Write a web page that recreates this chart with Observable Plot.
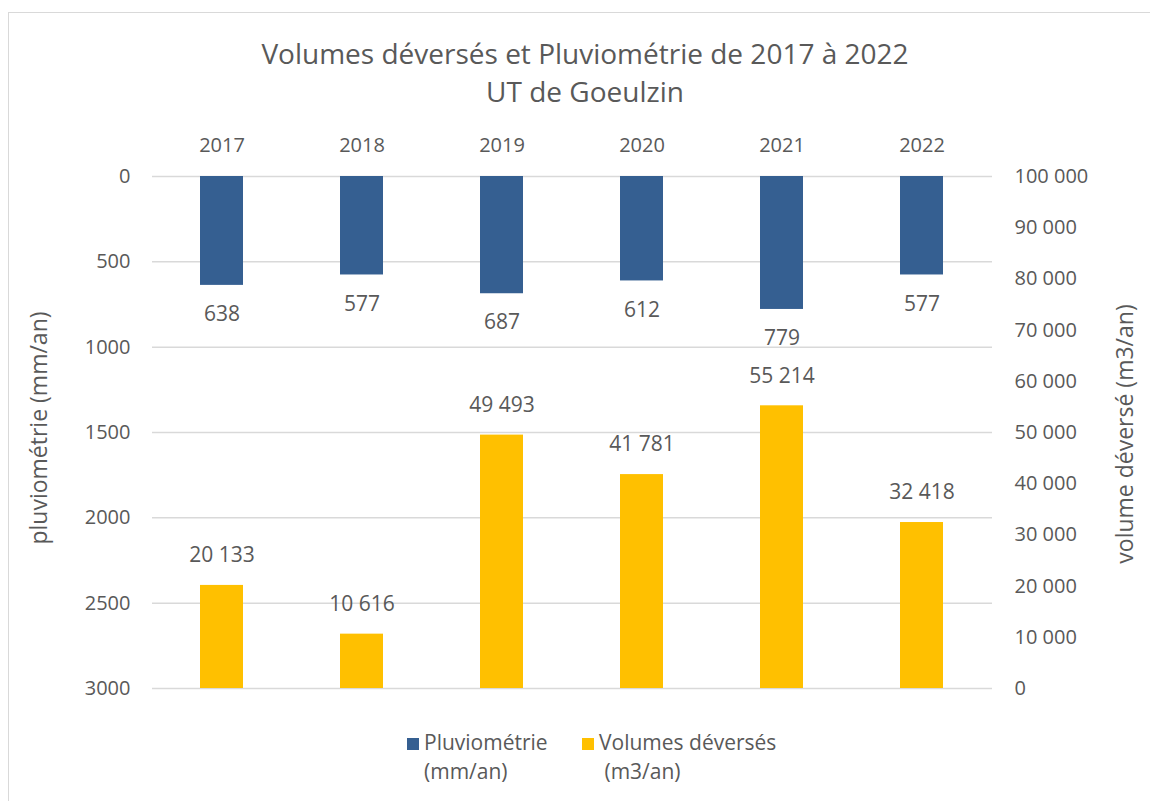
<!DOCTYPE html>
<html>
<head>
<meta charset="utf-8">
<script src="https://cdn.jsdelivr.net/npm/d3@7"></script>
<script src="https://cdn.jsdelivr.net/npm/@observablehq/plot@0.6"></script>
<style>
  html, body { margin: 0; padding: 0; background: #fff; }
  body { width: 1150px; height: 801px; position: relative; overflow: hidden; font-family: "Open Sans", sans-serif; color: #595959; }
  #frame { position: absolute; left: 8px; top: 12px; width: 1160px; height: 800px; border: 1.5px solid #d9d9d9; box-sizing: border-box; }
  #title { position: absolute; left: 0; width: 1170px; top: 34px; text-align: center; font-size: 28px; line-height: 38px; color: #595959; }
  #chart { position: absolute; left: 0; top: 0; }
  .ylab { position: absolute; font-size: 23px; white-space: nowrap; transform: translate(-50%, -50%) rotate(-90deg); color: #595959; }
  #legend { position: absolute; top: 728px; font-size: 21px; line-height: 29px; color: #595959; }
  .lg { position: absolute; white-space: nowrap; }
  .sw { position: absolute; width: 12px; height: 12px; }
</style>
</head>
<body>
<div id="frame"></div>
<div id="chart"></div>
<div id="title">Volumes déversés et Pluviométrie de 2017 à 2022<br>UT de Goeulzin</div>
<div class="ylab" style="left:38px; top:428px;">pluviométrie (mm/an)</div>
<div class="ylab" style="left:1124px; top:434px;">volume déversé (m3/an)</div>
<div id="legend"></div>
<script>
const years = ["2017", "2018", "2019", "2020", "2021", "2022"];
const pluvio = [638, 577, 687, 612, 779, 577];
const volumes = [20133, 10616, 49493, 41781, 55214, 32418];
const pluvioTicks = [0, 500, 1000, 1500, 2000, 2500, 3000];
const volumeTicks = [0, 10000, 20000, 30000, 40000, 50000, 60000, 70000, 80000, 90000, 100000];
const pluvioMax = 3000;
const volumeMax = 100000;

const blue = "#355F91";
const yellow = "#FFC000";
const textColor = "#595959";

// map volume onto the (reversed) pluviometry scale
const toY = v => pluvioMax - v * pluvioMax / volumeMax;
const fmtSpace = v => d3.format(",")(v).replace(/,/g, " ");

const data = years.map((y, i) => ({year: y, pluvio: pluvio[i], volume: volumes[i], vy: toY(volumes[i])}));

const chart = Plot.plot({
  width: 1150,
  height: 720,
  marginLeft: 152,
  marginRight: 158,
  marginTop: 176,
  marginBottom: 32,
  style: {fontFamily: "'Open Sans', sans-serif", fontSize: "20px", color: textColor, background: "transparent"},
  x: {domain: years, paddingInner: 0.69, paddingOuter: 0.345, axis: null},
  y: {domain: [0, pluvioMax], reverse: true, axis: null},
  marks: [
    Plot.ruleY(pluvioTicks, {stroke: "#d9d9d9", strokeWidth: 1.5}),
    Plot.axisX({anchor: "top", tickSize: 0, tickPadding: 25, label: null, fill: textColor, fontSize: 20}),
    Plot.axisY({anchor: "left", ticks: pluvioTicks, tickSize: 0, tickPadding: 22, tickFormat: d => String(d), label: null, fill: textColor, fontSize: 20}),
    Plot.axisY({anchor: "right", ticks: volumeTicks.map(toY), tickSize: 0, tickPadding: 22,
      tickFormat: d => fmtSpace(Math.round((pluvioMax - d) * volumeMax / pluvioMax)), label: null, fill: textColor, fontSize: 20}),
    Plot.barY(data, {x: "year", y1: 0, y2: "pluvio", fill: blue}),
    Plot.barY(data, {x: "year", y1: pluvioMax, y2: "vy", fill: yellow}),
    Plot.text(data, {x: "year", y: "pluvio", text: d => String(d.pluvio), dy: 29, fill: textColor, fontSize: 21}),
    Plot.text(data, {x: "year", y: "vy", text: d => fmtSpace(d.volume), dy: -30, fill: textColor, fontSize: 21})
  ]
});
document.getElementById("chart").appendChild(chart);

const legend = document.getElementById("legend");
legend.innerHTML = `
  <div class="sw" style="left:407px; top:10px; background:${blue}"></div>
  <div class="lg" style="left:424px; top:0px;">Pluviométrie<br>(mm/an)</div>
  <div class="sw" style="left:582px; top:10px; background:${yellow}"></div>
  <div class="lg" style="left:599px; top:0px;">Volumes déversés<br>&nbsp;(m3/an)</div>
`;
</script>
</body>
</html>
